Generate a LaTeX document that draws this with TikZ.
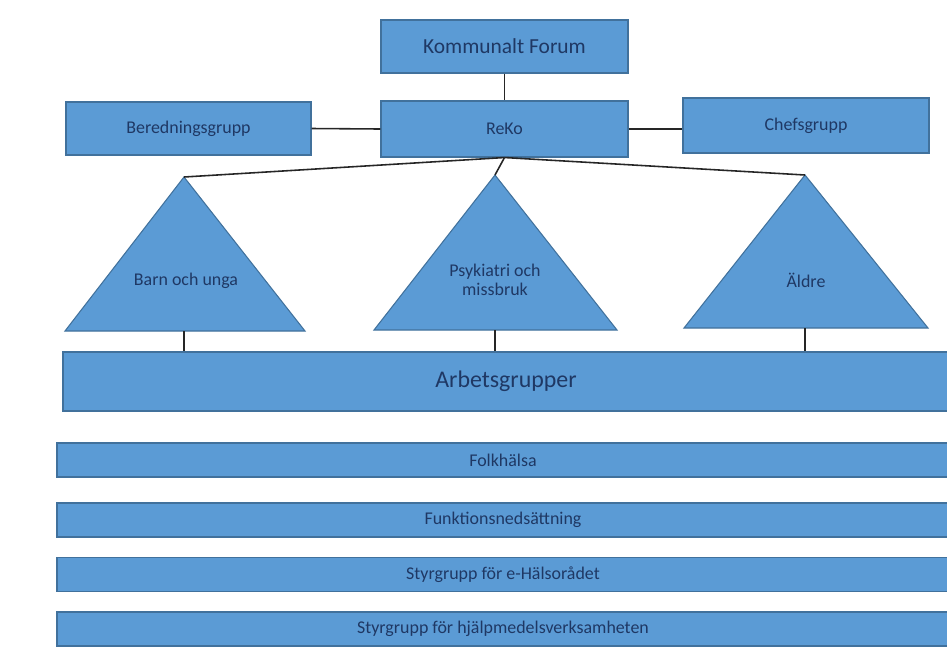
\documentclass[tikz,border=0pt]{standalone}
\usepackage{fontspec}
\setmainfont{Carlito}
\usetikzlibrary{positioning}

\definecolor{boxblue}{HTML}{5B9BD5}
\definecolor{boxline}{HTML}{41719C}
\definecolor{boxtext}{HTML}{1F3864}

\tikzset{
  box/.style = {draw=boxline, fill=boxblue, text=boxtext, line width=0.6pt,
                inner sep=0pt, align=center, font=\fontsize{10.2}{12}\selectfont},
  bar/.style = {box, minimum width=892*0.02cm, minimum height=34*0.02cm},
  tri/.style = {draw=boxline, fill=boxblue, line width=0.6pt},
  trilabel/.style = {text=boxtext, align=center, font=\fontsize{10.2}{12}\selectfont},
  link/.style = {draw=black!85, line width=0.9pt}
}

\begin{document}
\begin{tikzpicture}[x=0.02cm, y=-0.02cm]
  \useasboundingbox (0,0) rectangle (947,664);

  % top boxes
  \node[box, minimum width=247*0.02cm, minimum height=53*0.02cm,
        font=\fontsize{12.2}{14}\selectfont] (forum) at (504.5,46.5) {Kommunalt Forum};
  \node[box, minimum width=247*0.02cm, minimum height=56*0.02cm] (reko) at (504.5,129) {ReKo};
  \node[box, minimum width=245*0.02cm, minimum height=53*0.02cm] (bered) at (188.5,128.5) {Beredningsgrupp};
  \node[box, minimum width=246*0.02cm, minimum height=55*0.02cm] (chefs) at (806,125.5) {Chefsgrupp};

  % triangles
  \coordinate (barnTop) at (184,177);
  \coordinate (barnBot) at (184,331);
  \fill[tri] (barnTop) -- (305,331) -- (65,331) -- cycle;
  \node[trilabel] (barn) at (186,281) {Barn och unga};

  \coordinate (psykTop) at (495,175);
  \coordinate (psykBot) at (495,330);
  \fill[tri] (psykTop) -- (617,330) -- (374,330) -- cycle;
  \node[trilabel, font=\fontsize{10.2}{11}\selectfont] (psyk) at (495,280) {Psykiatri och\\missbruk};

  \coordinate (aldreTop) at (805,175);
  \coordinate (aldreBot) at (805,328);
  \fill[tri] (aldreTop) -- (928,328) -- (684,328) -- cycle;
  \node[trilabel] (aldre) at (806,280) {Äldre};

  % bars
  \node[box, minimum width=886*0.02cm, minimum height=59*0.02cm,
        font=\fontsize{13.6}{16}\selectfont] (arbets) at (506,381.5) {Arbetsgrupper};
  \node[bar] (folk) at (503,460) {Folkhälsa};
  \node[bar] (funk) at (503,520) {Funktionsnedsättning};
  \node[bar] (ehals) at (503,574.5) {Styrgrupp för e-Hälsorådet};
  \node[bar] (hjalp) at (503,629) {Styrgrupp för hjälpmedelsverksamheten};

  % connectors
  \draw[link] (forum.south) -- (reko.north);
  \draw[link] (bered.east) -- (reko.west);
  \draw[link] (reko.east) -- (reko.east -| chefs.west);
  \draw[link] (reko.south) -- (barnTop);
  \draw[link] (reko.south) -- (psykTop);
  \draw[link] (reko.south) -- (aldreTop);
  \draw[link] (barnBot) -- (barnBot |- arbets.north);
  \draw[link] (psykBot) -- (psykBot |- arbets.north);
  \draw[link] (aldreBot) -- (aldreBot |- arbets.north);
\end{tikzpicture}
\end{document}
